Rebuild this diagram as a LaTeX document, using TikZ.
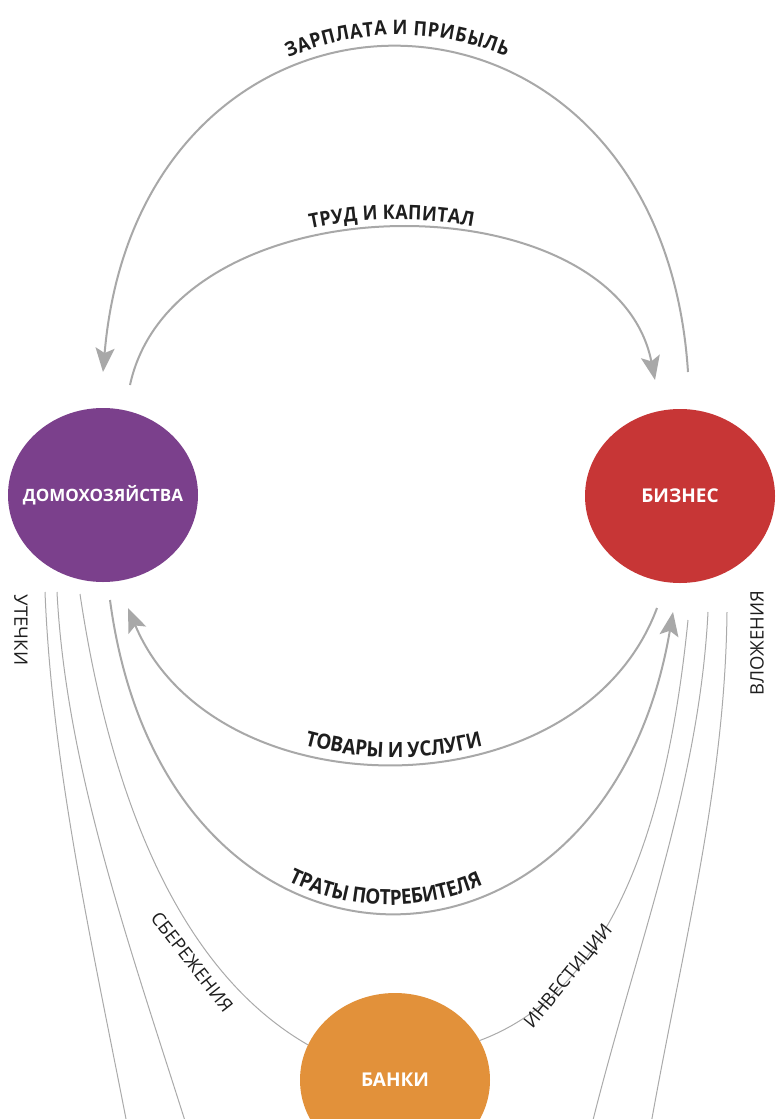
\documentclass[tikz,border=0pt]{standalone}
\usepackage{fontspec}
\setmainfont{Open Sans}
\newfontfamily\arcfont{Open Sans}[FakeStretch=0.9]
\usetikzlibrary{arrows.meta,decorations.text,shapes.geometric,calc}
\definecolor{hhcol}{RGB}{123,64,140}
\definecolor{bizcol}{RGB}{199,54,54}
\definecolor{bankcol}{RGB}{226,145,58}
\definecolor{flowcol}{RGB}{168,168,168}
\definecolor{thincol}{RGB}{170,170,170}
\definecolor{txtcol}{RGB}{30,30,30}
\newcommand{\arclblTop}{\arcfont\fontsize{20}{20}\selectfont\bfseries\color{txtcol}}
\newcommand{\arclblBot}{\arcfont\fontsize{21}{21}\selectfont\bfseries\color{txtcol}}
\begin{document}
\begin{tikzpicture}[x=1pt,y=-1pt,
  agent/.style={ellipse, minimum width=190pt, minimum height=174pt, inner sep=0pt,
    text=white, font=\fontsize{17}{17}\selectfont\bfseries},
  flow/.style={draw=flowcol, line width=2pt, -{Stealth[length=24pt,width=19pt,inset=5pt]}},
  thinline/.style={draw=thincol, line width=1pt},
  flowlabel/.style={decorate, decoration={text along path, text align=center, raise=#1}},
  sidelabel/.style={text=txtcol, font=\fontsize{18.5}{18.5}\selectfont, inner sep=0pt}
]
\useasboundingbox (0,0) rectangle (776,1119);
\clip (0,0) rectangle (776,1119);
\fill[white] (0,0) rectangle (776,1119);

% agents
\node[agent, fill=hhcol] (hh) at (103,495) {\makebox[0pt]{ДОМОХОЗЯЙСТВА}};
\node[agent, fill=bizcol, font=\fontsize{19}{19}\selectfont\bfseries] (biz) at (680,496) {\makebox[0pt]{БИЗНЕС}};
\node[agent, fill=bankcol, font=\fontsize{19}{19}\selectfont\bfseries] (bank) at (395,1080) {\makebox[0pt]{БАНКИ}};

% connector end points
\coordinate (zpL) at ($(hh)+(0,-123)$);
\coordinate (zpR) at ($(biz)+(8,-124)$);
\coordinate (tkL) at ($(hh)+(27,-110)$);
\coordinate (tkR) at ($(biz)+(-25,-116)$);
\coordinate (tuL) at ($(hh)+(25,113)$);
\coordinate (tuR) at ($(biz)+(-23,112)$);
\coordinate (tpL) at ($(hh)+(7,105)$);
\coordinate (tpR) at ($(biz)+(-7,116)$);
\coordinate (sbL) at ($(hh)+(-23,99)$);
\coordinate (lkA) at ($(hh)+(-58,97)$);
\coordinate (lkB) at ($(hh)+(-46,97)$);
\coordinate (lkAe) at (127,1124);
\coordinate (lkBe) at (186,1124);
\coordinate (ivR) at ($(biz)+(8,124)$);
\coordinate (vlA) at ($(biz)+(28,116)$);
\coordinate (vlB) at ($(biz)+(47,116)$);
\coordinate (vlAe) at (592,1124);
\coordinate (vlBe) at (651,1124);

% main flows
\draw[flow] (zpR) .. controls (660,-60) and (140,-60) .. (zpL);
\draw[flow] (tkL) .. controls (175,177) and (615,177) .. (tkR);
\draw[flow] (tuR) .. controls (580,815) and (215,815) .. (tuL);
\draw[flow] (tpL) .. controls (165,1014) and (605,1014) .. (tpR);

% thin flows
\draw[thinline] (lkA) .. controls (52,767) and (92,944) .. (lkAe);
\draw[thinline] (lkB) .. controls (66,767) and (129,944) .. (lkBe);
\draw[thinline] (sbL) .. controls (110,795) and (178,970) .. (bank.158);
\draw[thinline] (bank.25) .. controls (615,990) and (668,820) .. (ivR);
\draw[thinline] (vlA) .. controls (699,787) and (637,944) .. (vlAe);
\draw[thinline] (vlB) .. controls (725,787) and (683,944) .. (vlBe);

% curved labels
\path[flowlabel=13pt, decoration={text={|\arclblTop|ЗАРПЛАТА И ПРИБЫЛЬ}}]
  (zpL) .. controls (140,-60) and (660,-60) .. (zpR);
\path[flowlabel=9pt, decoration={text={|\arclblTop|ТРУД И КАПИТАЛ}}]
  (tkL) .. controls (175,177) and (615,177) .. (tkR);
\path[flowlabel=6pt, decoration={text={|\arclblBot|ТОВАРЫ И УСЛУГИ}}]
  (tuL) .. controls (215,815) and (580,815) .. (tuR);
\path[flowlabel=7pt, decoration={text={|\arclblBot|ТРАТЫ ПОТРЕБИТЕЛЯ}}]
  (tpL) .. controls (165,1014) and (605,1014) .. (tpR);

% side labels
\node[sidelabel, rotate=-90] (ut) at (21,630) {УТЕЧКИ};
\node[sidelabel, rotate=90] (vl) at (757,643) {ВЛОЖЕНИЯ};
\node[sidelabel, rotate=-52] (sb) at (192,962) {СБЕРЕЖЕНИЯ};
\node[sidelabel, rotate=51] (iv) at (569,977) {ИНВЕСТИЦИИ};
\end{tikzpicture}
\end{document}
